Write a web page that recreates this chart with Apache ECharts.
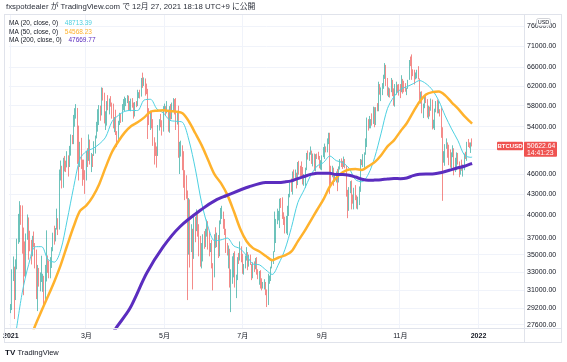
<!DOCTYPE html>
<html><head><meta charset="utf-8">
<script src="https://cdn.jsdelivr.net/npm/echarts@6/dist/echarts.min.js"></script>
<style>html,body{margin:0;padding:0;background:#fff}#c{width:567px;height:362px}</style>
</head><body><div id="c"></div>
<script>
// ---------- data ----------
const firstCategory = '2020-12-31';
const categoryCount = 402;
const firstCandleDate = '2021-01-01';
const tickDates = ['2021-01-01','2021-03-01','2021-05-01','2021-07-01','2021-09-01','2021-11-01','2022-01-01'];
const tickLabels = ['2021','3月','5月','7月','9月','11月','2022'];
const priceTicks = [27600,29200,31000,33000,35000,37000,40000,43000,46000,50000,54000,58000,62000,66000,71000,76000];

const opens = [
28990,29374,32127,32782,31971,33992,36824,39371,40797,40254,38356,35566,33922,37316,39187,36825,36178,35792,36630,36069,35548,30826,33005,32067,32289,32366,32569,30432,33466,34317,34269,
33114,33538,35510,37472,36926,38144,39266,38903,46196,46481,44918,47910,47504,47105,48717,47945,49199,52149,51679,55888,56099,57539,54207,48824,49705,47093,46339,46188,
45137,49631,48378,50538,48562,48927,48912,51206,52246,54824,56008,57805,57332,61243,59302,55907,56804,58870,57858,58346,58313,57523,54529,54738,52774,51704,55137,55974,55947,57750,58918,
58918,59095,59384,57603,58758,59057,58192,56048,58323,58245,59793,60204,59893,63503,63109,63314,61572,60683,56216,55724,56473,53906,51763,51093,50050,49004,54021,55033,54824,53555,
57750,57828,56631,57200,53333,57424,56396,57356,58803,58232,55859,56704,49150,49716,49880,46760,46456,43537,42909,37002,40782,37304,37536,34770,38705,38402,39294,38436,35697,34616,35678,
37332,36684,37575,39188,36826,35521,35796,33549,33416,37389,36693,37313,35551,39097,40219,40406,38347,38053,35787,35615,35698,31677,32505,33723,34662,31637,32186,34649,34434,35867,
35040,33572,33897,34668,35287,33746,34235,33855,32877,33798,33520,34240,33155,32702,32822,31780,31421,31533,31796,30817,29807,32110,32313,33581,34292,35350,37337,39406,39995,40008,42235,
41626,39974,39201,38152,39747,40869,42816,44556,43798,46366,45585,45593,44428,47793,47096,47047,46004,44695,44801,46717,49339,48905,49321,49546,47707,48993,46942,49058,48902,48830,47055,
47167,48848,49327,50025,49944,51753,52663,46863,46049,46396,44851,45171,46026,44941,47112,48147,47754,47285,48314,47261,43012,40719,43575,44896,42843,42717,43208,42235,41035,41564,
43791,48165,47657,48233,49245,51514,55361,53805,53967,54968,54772,57485,56041,57401,57321,61593,60892,61553,62026,64262,65993,62210,60693,61393,60931,63039,60363,58483,60622,62228,61888,
61318,61004,63226,62970,61452,61125,61527,63327,67566,66971,64995,64950,64155,64469,65466,63557,60161,60368,56942,58119,59697,58730,56289,57570,57191,58960,53727,54721,57275,57806,
56951,57184,56480,53601,49153,49397,50441,50588,50471,47545,47140,49389,50053,46702,48343,48864,47632,46131,46834,46681,46914,48890,48589,50838,50820,50400,50775
];
const highs = [
29600,33300,34778,33600,34440,36940,40180,41950,41380,41350,38360,36600,37600,40100,39700,37950,36800,37300,37850,36400,35600,33800,33450,32950,34870,32800,32570,33800,38000,34900,34300,
34700,35900,37700,38600,38300,40900,39600,46700,48150,47300,48600,48900,48130,49700,49000,50600,52600,52500,56200,57500,58300,57540,54200,51300,52000,48300,48300,46600,
49750,50200,52600,51700,49400,49200,51400,52400,54900,57300,58100,58000,61700,61600,60600,56900,58900,60100,59400,59900,58600,58400,55800,57200,53200,55100,56600,56500,58300,59300,59800,
59500,60100,60000,58900,59400,59500,58600,58700,58900,61200,60700,61200,63700,64863,63800,63600,62500,61400,57500,57000,56800,55400,52100,51200,50500,54300,55400,56400,55200,57900,
58400,57900,58900,57200,57900,58300,58600,59500,59300,59500,56800,58000,51300,51500,50700,49700,46600,45800,43500,42400,42200,38800,38200,39900,39800,40800,40400,38800,37300,36400,37500,
37900,38200,39400,39200,37900,36400,36800,34000,37500,38400,37700,37400,39300,41000,41300,40500,39500,38200,36400,36100,35700,33300,34800,35200,35400,32700,34700,35200,36600,36000,
35100,33900,34900,35900,35300,35000,35000,33900,34100,34200,34600,34700,33300,33100,33200,32300,31900,32200,31900,31100,32800,32600,33600,34500,35400,40500,39500,40900,40600,42300,42400,
42500,40400,39800,39900,41300,43000,44700,45300,46400,46700,46700,46200,47900,48100,47300,48000,47100,46000,47000,49400,49800,49500,50500,49800,49300,49300,49200,49300,49600,48900,48200,
49000,50400,51000,50500,51900,52900,52900,47300,47300,47000,45900,46400,46800,47200,48400,48500,48100,48800,48400,47300,43600,44000,44900,45000,42900,43900,44300,42800,42600,44100,
48400,48300,49200,49500,51900,55700,55400,56000,55400,56500,57800,57700,57700,58500,62900,62400,61700,62600,64400,67000,66600,63700,61700,61500,63700,63300,61500,62400,62900,62300,62400,
62400,64300,63500,63100,62600,61600,63300,67700,68500,69000,65600,65500,64900,65500,66300,63600,60800,60900,58400,59900,60000,59300,58000,57800,59400,59200,55300,57400,58900,59200,
59000,57300,57600,53900,49700,50900,51900,51200,50800,50000,49500,50700,50200,48600,49500,49400,48000,47300,48300,47500,49300,49600,51300,51800,51200,51200,51900
];
const lows = [
28700,29000,32000,28130,30000,33300,36300,36500,38720,35110,30500,32500,32400,36800,34400,35400,33850,34800,35900,33400,30100,28900,31400,30900,31900,30850,29250,29900,31950,32900,32300,
32300,33450,35400,36200,36600,38100,37400,38100,45000,43800,43900,46400,46300,47050,45600,47100,48950,50900,50900,54000,55500,47600,45000,47100,46800,44200,45100,43000,
45000,47100,48100,47500,46300,47100,48900,49300,51900,53100,54300,55100,56100,59000,54600,53400,54200,57100,56300,57800,55500,53700,53000,52500,50400,51400,54300,54700,54900,57100,56900,
57900,58500,57100,57000,56900,57600,55500,55900,57700,57900,59500,59400,59800,61600,62000,60000,60300,51800,54300,53400,53700,50600,47500,48900,47000,48900,53300,53900,52400,53100,
57100,56100,56500,53100,52900,55300,55400,56900,56300,53400,54400,48600,46000,48800,46600,43900,42100,42300,30000,35000,33500,35300,31100,34500,36500,37900,37200,34800,33600,33400,34200,
35700,35900,37200,35600,34800,35300,33400,31000,32400,35800,35900,34600,34800,38800,39500,38200,37400,35200,34900,33400,31300,28800,31700,32400,31300,30200,32100,33900,34300,34100,
32800,32700,33400,34300,33200,33600,33800,32100,32300,33000,33300,32700,32200,31600,31200,31000,31200,31100,30500,29300,29500,31700,32000,33400,33900,35300,36400,38800,39300,38300,41000,
39500,38700,37600,37600,37400,39900,42500,43300,42900,44800,45400,43800,44300,45900,45600,45500,44400,44200,43900,46600,48300,48100,49100,47600,47200,46500,46400,48400,48300,46900,46700,
46600,48700,48400,49500,49500,50900,43000,44500,45500,44200,44800,44700,43400,44700,46700,47100,46800,47100,46900,42600,39600,40600,43100,40800,41600,40800,42100,40900,40800,41400,
43300,47400,47100,46900,49100,50400,53300,53700,53700,54200,54500,53900,54300,56900,56900,60200,58900,60100,61400,63500,62000,60000,59700,59600,60700,59900,58000,57800,60200,60700,60000,
59500,60700,60400,60700,60800,60100,61400,63300,66300,63300,64100,62300,63400,63600,63400,58600,58400,56500,55600,57500,58500,55700,55400,55900,57000,53500,53700,53400,56700,56500,
56500,55900,52000,42000,47800,47300,50100,48600,47400,47000,46900,48700,45800,46300,46600,47500,45500,45900,46500,45600,46600,48400,48100,50400,50200,49400,50500
];
const closes = [
29374,32127,32782,31971,33992,36824,39371,40797,40254,38356,35566,33922,37316,39187,36825,36178,35792,36630,36069,35548,30826,33005,32067,32289,32366,32569,30432,33466,34317,34269,33114,
33538,35510,37472,36926,38144,39266,38903,46196,46481,44918,47910,47504,47105,48717,47945,49199,52149,51679,55888,56099,57539,54207,48824,49705,47093,46339,46188,45137,
49631,48378,50538,48562,48927,48912,51206,52246,54824,56008,57805,57332,61243,59302,55907,56804,58870,57858,58346,58313,57523,54529,54738,52774,51704,55137,55974,55947,57750,58918,58918,
59095,59384,57603,58758,59057,58192,56048,58323,58245,59793,60204,59893,63503,63109,63314,61572,60683,56216,55724,56473,53906,51763,51093,50050,49004,54021,55033,54824,53555,57750,
57828,56631,57200,53333,57424,56396,57356,58803,58232,55859,56704,49150,49716,49880,46760,46456,43537,42909,37002,40782,37304,37536,34770,38705,38402,39294,38436,35697,34616,35678,37332,
36684,37575,39188,36826,35521,35796,33549,33416,37389,36693,37313,35551,39097,40219,40406,38347,38053,35787,35615,35698,31677,32505,33723,34662,31637,32186,34649,34434,35867,35040,
33572,33897,34668,35287,33746,34235,33855,32877,33798,33520,34240,33155,32702,32822,31780,31421,31533,31796,30817,29807,32110,32313,33581,34292,35350,37337,39406,39995,40008,42235,41626,
39974,39201,38152,39747,40869,42816,44556,43798,46366,45585,45593,44428,47793,47096,47047,46004,44695,44801,46717,49339,48905,49321,49546,47707,48993,46942,49058,48902,48830,47055,47167,
48848,49327,50025,49944,51753,52663,46863,46049,46396,44851,45171,46026,44941,47112,48147,47754,47285,48314,47261,43012,40719,43575,44896,42843,42717,43208,42235,41035,41564,43791,
48165,47657,48233,49245,51514,55361,53805,53967,54968,54772,57485,56041,57401,57321,61593,60892,61553,62026,64262,65993,62210,60693,61393,60931,63039,60363,58483,60622,62228,61888,61318,
61004,63226,62970,61452,61125,61527,63327,67566,66971,64995,64950,64155,64469,65466,63557,60161,60368,56942,58119,59697,58730,56289,57570,57191,58960,53727,54721,57275,57806,56951,
57184,56480,53601,49153,49397,50441,50588,50471,47545,47140,49389,50053,46702,48343,48864,47632,46131,46834,46681,46914,48890,48589,50838,50820,50400,50775,50622.64
];

const ma20 = [
['2021-01-05',26850],['2021-01-10',30820],['2021-01-15',33870],['2021-01-20',35944],['2021-01-25',35959],['2021-01-30',34432],
['2021-02-04',34119],['2021-02-09',35558],['2021-02-14',39338],['2021-02-19',43928],['2021-02-24',48419],['2021-03-01',49689],
['2021-03-06',50147],['2021-03-11',50908],['2021-03-16',52119],['2021-03-21',54945],['2021-03-26',56123],['2021-03-31',56894],
['2021-04-05',57060],['2021-04-10',57044],['2021-04-15',59101],['2021-04-20',59259],['2021-04-25',57355],['2021-04-30',56585],
['2021-05-05',55204],['2021-05-10',55003],['2021-05-15',54823],['2021-05-20',51598],['2021-05-25',46813],['2021-05-30',41667],
['2021-06-04',38436],['2021-06-09',36686],['2021-06-14',36794],['2021-06-19',37018],['2021-06-24',36051],['2021-06-29',35706],
['2021-07-04',34886],['2021-07-09',33901],['2021-07-14',33809],['2021-07-19',33238],['2021-07-24',32720],['2021-07-29',33899],
['2021-08-03',35637],['2021-08-08',38359],['2021-08-13',41742],['2021-08-18',43619],['2021-08-23',45751],['2021-08-28',47242],
['2021-09-02',47815],['2021-09-07',48895],['2021-09-12',48129],['2021-09-17',47810],['2021-09-22',46893],['2021-09-27',45126],
['2021-10-02',44812],['2021-10-07',45958],['2021-10-12',48675],['2021-10-17',52818],['2021-10-22',57467],['2021-10-27',59769],
['2021-11-01',61261],['2021-11-06',61838],['2021-11-11',62469],['2021-11-16',63149],['2021-11-21',62489],['2021-11-26',61161],
['2021-12-01',58967],['2021-12-06',56030],['2021-12-11',53594],['2021-12-16',51487],['2021-12-21',49062],['2021-12-26',48680],['2021-12-27',48713.39]
];
const ma50 = [
['2021-01-15',25860],['2021-01-20',27500],['2021-01-25',28930],['2021-01-30',30380],['2021-02-04',31960],['2021-02-09',33810],
['2021-02-14',36100],['2021-02-19',38461],['2021-02-24',40584],['2021-03-01',41359],['2021-03-06',42609],['2021-03-11',44447],
['2021-03-16',47047],['2021-03-21',49565],['2021-03-26',51411],['2021-03-31',52981],['2021-04-05',54136],['2021-04-10',54811],
['2021-04-15',55684],['2021-04-20',56810],['2021-04-25',57020],['2021-04-30',57082],['2021-05-05',56918],['2021-05-10',56833],
['2021-05-15',56499],['2021-05-20',54963],['2021-05-25',52819],['2021-05-30',50682],['2021-06-04',48233],['2021-06-09',45933],
['2021-06-14',44595],['2021-06-19',42855],['2021-06-24',40572],['2021-06-29',38215],['2021-07-04',36620],['2021-07-09',35776],
['2021-07-14',35371],['2021-07-19',34843],['2021-07-24',34333],['2021-07-29',34662],['2021-08-03',34908],['2021-08-08',35379],
['2021-08-13',36609],['2021-08-18',37827],['2021-08-23',39254],['2021-08-28',40716],['2021-09-02',42212],['2021-09-07',44090],
['2021-09-12',45418],['2021-09-17',46280],['2021-09-22',46714],['2021-09-27',46797],['2021-10-02',46645],['2021-10-07',47216],
['2021-10-12',47884],['2021-10-17',49027],['2021-10-22',50506],['2021-10-27',51565],['2021-11-01',53137],['2021-11-06',54638],
['2021-11-11',56736],['2021-11-16',58775],['2021-11-21',60208],['2021-11-26',60719],['2021-12-01',60853],['2021-12-06',60059],
['2021-12-11',58658],['2021-12-16',57406],['2021-12-21',55974],['2021-12-26',54796],['2021-12-27',54568.23]
];
const ma200 = [
['2021-03-20',26500],['2021-03-24',27260],['2021-04-04',29170],['2021-04-17',32850],['2021-04-30',35950],['2021-05-13',38470],
['2021-05-31',40940],['2021-06-10',42110],['2021-06-18',42730],['2021-07-06',44050],['2021-07-19',44699],['2021-07-24',44709],
['2021-07-29',44691],['2021-08-03',44783],['2021-08-08',44941],['2021-08-13',45287],['2021-08-18',45610],['2021-08-23',45946],
['2021-08-28',46109],['2021-09-02',46134],['2021-09-07',46106],['2021-09-12',45917],['2021-09-17',45921],['2021-09-22',45809],
['2021-09-27',45528],['2021-10-02',45186],['2021-10-07',45022],['2021-10-12',45064],['2021-10-17',45121],['2021-10-22',45227],
['2021-10-27',45295],['2021-11-01',45280],['2021-11-06',45378],['2021-11-11',45738],['2021-11-16',45951],['2021-11-21',46009],
['2021-11-26',45994],['2021-12-01',46153],['2021-12-06',46395],['2021-12-11',46687],['2021-12-16',46976],['2021-12-21',47215],
['2021-12-26',47594],['2021-12-27',47669.77]
];

const titleText = 'fxspotdealer が TradingView.com で 12月 27, 2021 18:18 UTC+9 に公開';
const maNames = ['MA (20, close, 0)', 'MA (50, close, 0)', 'MA (200, close, 0)'];
const maLast = ['48713.39', '54568.23', '47669.77'];
const symbolName = 'BTCUSD';
const lastPriceText = '50622.64';
const countdownText = '14:41:23';
const currencyText = 'USD';

// ---------- build ----------
function addDays(s, n) { const d = new Date(s + 'T00:00:00Z'); d.setUTCDate(d.getUTCDate() + n); return d.toISOString().slice(0, 10); }
const categories = [];
for (let i = 0; i < categoryCount; i++) categories.push(addDays(firstCategory, i));
const offset = categories.indexOf(firstCandleDate);
const candleData = categories.map((c, i) => {
  const k = i - offset;
  return (k >= 0 && k < closes.length) ? [opens[k], closes[k], lows[k], highs[k]] : '-';
});
const tickMap = {};
tickDates.forEach((d, i) => tickMap[d] = tickLabels[i]);
const isTick = (i, v) => tickMap[v] !== undefined;

const UP = '#26a69a', DOWN = '#ef5350';
const C20 = '#4dd0e1', C50 = '#ffb22c', C200 = '#5b2dbf';
const FONT = "'Liberation Sans','Noto Sans CJK JP',sans-serif";
const GRID = '#f0f3fa', BORDER = '#e0e3eb', TXT = '#131722';

const chart = echarts.init(document.getElementById('c'), null, { renderer: 'canvas' });
chart.setOption({
  animation: false,
  backgroundColor: '#fff',
  grid: { left: 5, right: 43, top: 14, bottom: 34 },
  xAxis: {
    type: 'category', data: categories, boundaryGap: true,
    axisLine: { show: false }, axisTick: { show: false },
    axisLabel: {
      interval: isTick, margin: 5, fontSize: 7, color: TXT, fontFamily: FONT,
      formatter: v => { const t = tickMap[v] || ''; return /^\d{4}$/.test(t) ? '{b|' + t + '}' : t; },
      rich: { b: { fontWeight: 'bold', fontSize: 7, color: TXT, fontFamily: FONT } }
    },
    splitLine: { show: true, interval: isTick, lineStyle: { color: GRID, width: 1 } }
  },
  yAxis: {
    type: 'log', logBase: 10, position: 'right', min: 27290, max: 79130,
    axisLine: { show: false },
    axisTick: { show: false, customValues: priceTicks },
    axisLabel: { customValues: priceTicks, formatter: v => Number(v).toFixed(2), fontSize: 7, color: TXT, fontFamily: FONT, margin: 3 },
    splitLine: { show: true, lineStyle: { color: GRID, width: 1 } }
  },
  series: [
    { type: 'candlestick', data: candleData, barWidth: 0.9,
      itemStyle: { color: UP, color0: DOWN, borderColor: UP, borderColor0: DOWN, borderWidth: 0.8, opacity: 0.85 } },
    { type: 'line', data: ma20, showSymbol: false, smooth: 0.3, lineStyle: { color: C20, width: 1 }, z: 3 },
    { type: 'line', data: ma50, showSymbol: false, smooth: 0.3, lineStyle: { color: C50, width: 2.5 }, z: 4 },
    { type: 'line', data: ma200, showSymbol: false, smooth: 0.3, lineStyle: { color: C200, width: 3 }, z: 5 }
  ]
});

const yLast = chart.convertToPixel({ yAxisIndex: 0 }, closes[closes.length - 1]);
const line = (x1, y1, x2, y2) => ({ type: 'line', shape: { x1, y1, x2, y2 }, style: { stroke: BORDER, lineWidth: 1 }, z: 50 });
const maColors = [C20, C50, C200];
const g = [
  line(4, 14.5, 562, 14.5), line(4, 328.5, 562, 328.5), line(4, 342.5, 562, 342.5),
  line(4.5, 14, 4.5, 343), line(524.5, 14, 524.5, 343), line(561.5, 14, 561.5, 343),
  { type: 'text', left: 6, top: 3, z: 60, style: { text: titleText, fontSize: 7.8, fill: '#2a2e39', fontFamily: FONT } }
];
maNames.forEach((n, i) => {
  g.push({ type: 'text', x: 9, y: 23.3 + i * 8.5, z: 60, style: {
    text: '{l|' + n + '}  {v|' + maLast[i] + '}', verticalAlign: 'middle', fontFamily: FONT,
    rich: { l: { fontSize: 6.5, fill: TXT, fontFamily: FONT }, v: { fontSize: 6.5, fill: maColors[i], fontFamily: FONT } } } });
});
g.push(
  { type: 'rect', shape: { x: 497, y: yLast - 4, width: 26, height: 8.5, r: 1 }, style: { fill: DOWN }, z: 70 },
  { type: 'text', x: 510, y: yLast + 0.3, z: 71, style: { text: symbolName, fill: '#fff', fontSize: 6, fontWeight: 'bold', align: 'center', verticalAlign: 'middle', fontFamily: FONT } },
  { type: 'rect', shape: { x: 524, y: yLast - 4, width: 33, height: 15, r: 1 }, style: { fill: DOWN }, z: 70 },
  { type: 'text', x: 527, y: yLast + 0.5, z: 71, style: { text: lastPriceText, fill: '#fff', fontSize: 6.8, verticalAlign: 'middle', fontFamily: FONT } },
  { type: 'text', x: 527, y: yLast + 7.3, z: 71, style: { text: countdownText, fill: '#fff', fontSize: 6.8, verticalAlign: 'middle', fontFamily: FONT } },
  { type: 'rect', shape: { x: 536.5, y: 18.5, width: 14, height: 7.5, r: 2 }, style: { fill: '#fff', stroke: '#b2b5be', lineWidth: 0.6 }, z: 70 },
  { type: 'text', x: 543.5, y: 22.3, z: 71, style: { text: currencyText, fill: TXT, fontSize: 5.5, align: 'center', verticalAlign: 'middle', fontFamily: FONT } },
  { type: 'text', x: 5, y: 352.5, z: 60, style: { text: 'TV', fill: TXT, fontSize: 8, fontWeight: 'bold', verticalAlign: 'middle', fontFamily: FONT } },
  { type: 'text', x: 17.5, y: 352.5, z: 60, style: { text: 'TradingView', fill: TXT, fontSize: 7.5, verticalAlign: 'middle', fontFamily: FONT } }
);
chart.setOption({ graphic: g });
</script></body></html>
